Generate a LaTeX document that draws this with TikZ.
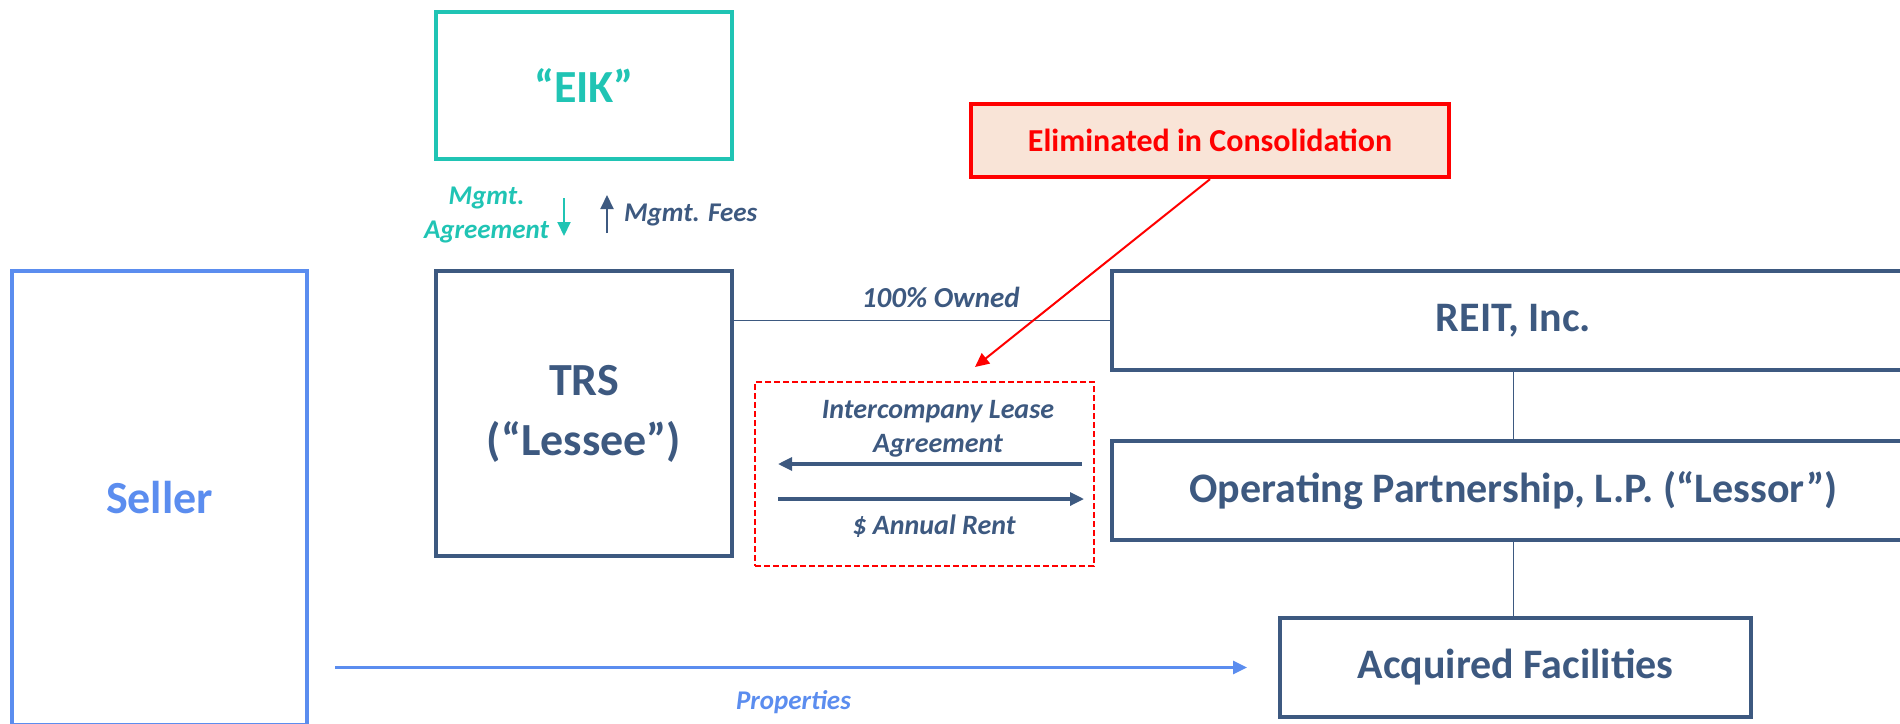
\documentclass[tikz,border=0pt]{standalone}
\usepackage{fontspec}
\setmainfont{Carlito}
\usetikzlibrary{positioning,calc,arrows.meta}
\definecolor{slate}{RGB}{61,89,128}
\definecolor{eikteal}{RGB}{32,196,180}
\definecolor{sellerblue}{RGB}{91,141,239}
\definecolor{elimfill}{RGB}{249,228,215}
\tikzset{>={Triangle[length=7pt,width=6.5pt]}}
\tikzset{
  entity/.style={draw=slate,line width=2pt,text=slate,inner sep=0pt,align=center,
    font=\bfseries\fontsize{21}{27}\selectfont},
  tag/.style={text=slate,inner sep=0pt,align=center,
    font=\bfseries\itshape\fontsize{13.5}{17}\selectfont},
  link/.style={draw=slate,line width=.7pt},
}

\begin{document}
\begin{tikzpicture}[x=1pt,y=-1pt]
\useasboundingbox (0,0) rectangle (950,361.5);
\node[entity,draw=eikteal,text=eikteal,font=\bfseries\fontsize{23}{30}\selectfont,
  minimum width=148pt,minimum height=73.5pt] (eik) at (292,42.75) {“EIK”};
\node[entity,font=\bfseries\fontsize{23}{30}\selectfont,
  minimum width=148pt,minimum height=142.5pt] (trs) at (292,206.75) {TRS\\(“Lessee”)};
\node[entity,draw=sellerblue,text=sellerblue,font=\bfseries\fontsize{23}{30}\selectfont,
  minimum width=147.5pt,minimum height=227pt] (seller) at (79.75,249) {Seller};
\node[entity,minimum width=401.5pt,minimum height=49.5pt] (reit) at (756.75,160.25) {REIT, Inc.};
\node[entity,minimum width=401.5pt,minimum height=49.5pt] (op) at (756.75,245.25) {Operating Partnership, L.P. (“Lessor”)};
\node[entity,minimum width=235.5pt,minimum height=49.5pt] (acq) at (757.75,333.75) {Acquired Facilities};
\node[entity,draw=red,text=red,fill=elimfill,line width=2.2pt,font=\bfseries\fontsize{16}{19}\selectfont,
  minimum width=239pt,minimum height=36.5pt] (elim) at (605,70.25) {Eliminated in Consolidation};
\node[draw=red,line width=1pt,dash pattern=on 3pt off 1.5pt,
  minimum width=169.5pt,minimum height=92pt] (lease) at (462.25,237) {};

% management
\draw[->,eikteal,line width=1pt,shorten <=18.5pt,shorten >=16.5pt]
  ([xshift=-10pt]eik.south) -- node[tag,text=eikteal,left=7pt] {Mgmt.\\Agreement} ([xshift=-10pt]trs.north);
\draw[->,slate,line width=1pt,shorten <=18pt,shorten >=17pt]
  ([xshift=11.5pt]trs.north) -- node[tag,right=8pt] {Mgmt. Fees} ([xshift=11.5pt]eik.south);

% ownership
\draw[link] (trs.east |- reit.west) -- node[tag,pos=.55,above=6pt,font=\bfseries\itshape\fontsize{14.5}{17}\selectfont] {100\% Owned} (reit.west);
\draw[link] (reit) -- (op);
\draw[link] (op.south) -- (op.south |- acq.north);

% lease
\coordinate (upper) at ($(lease.center)+(0,-5)$);
\coordinate (lower) at ($(lease.center)+(0,12.5)$);
\draw[->,slate,line width=1.6pt,shorten <=14pt,shorten >=22pt]
  (op.west |- upper) -- node[tag,xshift=8pt,above=2.5pt,font=\bfseries\itshape\fontsize{14}{17}\selectfont] {Intercompany Lease\\Agreement} (trs.east |- upper);
\draw[->,slate,line width=1.6pt,shorten <=22pt,shorten >=13pt]
  (trs.east |- lower) -- node[tag,xshift=6pt,below=7pt,font=\bfseries\itshape\fontsize{14}{17}\selectfont] {\$ Annual Rent} (op.west |- lower);

% elimination
\coordinate (tip) at (487.5,183.5);
\draw[->,red,line width=1pt] (elim.south) -- (tip);

% purchase
\draw[->,sellerblue,line width=1.5pt,shorten <=13pt,shorten >=15.5pt]
  (seller.east |- acq.west) -- node[tag,text=sellerblue,below=11pt] {Properties} (acq.west);
\end{tikzpicture}
\end{document}
